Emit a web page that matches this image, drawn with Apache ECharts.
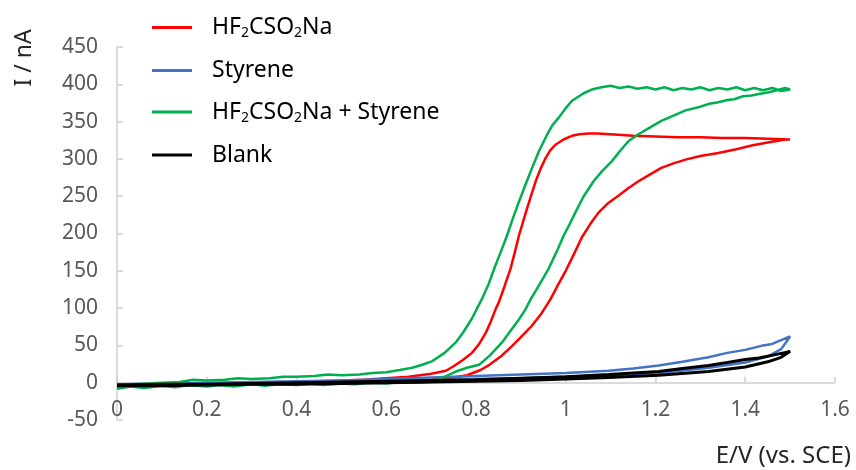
<!DOCTYPE html>
<html>
<head>
<meta charset="utf-8">
<script src="https://cdn.jsdelivr.net/npm/echarts@6/dist/echarts.min.js"></script>
<style>html,body{margin:0;padding:0;background:#fff;}#c{width:856px;height:470px;}</style>
</head>
<body>
<div id="c"></div>
<script>
// Series names
var seriesNames = ['HF2CSO2Na', 'Styrene', 'HF2CSO2Na + Styrene', 'Blank'];
// X axis ticks (E/V) and Y axis ticks (I / nA)
var xTicks = [0, 0.2, 0.4, 0.6, 0.8, 1, 1.2, 1.4, 1.6];
var yTicks = [-50, 0, 50, 100, 150, 200, 250, 300, 350, 400, 450];

// HF2CSO2Na: forward scan then reverse scan
var redE = [0,0.1,0.2,0.3,0.4,0.5,0.6,0.65,0.7,0.75,0.78,0.81,0.83,0.855,0.88,0.9,0.924,0.945,0.966,0.98,1.0,1.018,1.036,1.055,1.073,1.095,1.118,1.14,1.162,1.19,1.213,1.24,1.267,1.3,1.34,1.38,1.414,1.45,1.49,1.5,
  1.45,1.4,1.35,1.3,1.25,1.2,1.15,1.1,1.07,1.05,1.03,1.014,0.995,0.977,0.965,0.955,0.944,0.933,0.924,0.914,0.905,0.896,0.887,0.877,0.864,0.851,0.844,0.833,0.822,0.807,0.791,0.77,0.75,0.733,0.7,0.65,0.6,0.55,0.5,0.4,0.3,0.2,0.1,0];
var redI = [-4,-3,-2,-1,0,0,2,3,4,7,10,17,24,35,49,61,76,92,112,128,150,172,195,213,228,241,251,261,270,280,288,294,299,304,308,313,318,322,326,326,
  327,328,328,329,329,330,331,333,334,334,333,331,326,319,311,301,287,270,253,234,216,198,176,153,130,108,99,82,67,52,40,30,22,16,12,8,6,4,3,1,0,-1,-2,-4];

// Styrene
var blueE = [0,0.1,0.2,0.3,0.4,0.5,0.6,0.7,0.8,0.9,1.0,1.1,1.207,1.318,1.4,1.45,1.48,1.5,
  1.48,1.46,1.44,1.42,1.4,1.36,1.318,1.26,1.207,1.15,1.096,1.0,0.9,0.8,0.7,0.6,0.5,0.4,0.3,0.2,0.1,0];
var blueI = [-3,-3,-2,-1,0,1,2,3,5,6,8,10,13,20,27,35,45,62,
  57,52,50,47,44,40,34,28,23,19,16,13,11,9,7,5,3,2,1,0,-1,-2];

// HF2CSO2Na + Styrene
var greenE = [0,0.03,0.06,0.1,0.13,0.16,0.2,0.23,0.26,0.3,0.33,0.36,0.4,0.43,0.46,0.5,0.53,0.56,0.6,0.63,0.66,0.696,0.72,0.755,0.78,0.807,0.83,0.858,0.875,0.896,0.91,0.922,0.94,0.962,0.98,0.996,1.01,1.022,1.04,1.062,1.08,1.103,1.12,1.14,1.162,1.19,1.213,1.24,1.267,1.3,1.32,1.34,1.36,1.375,1.395,1.414,1.43,1.45,1.47,1.489,1.5,
  1.48,1.46,1.44,1.42,1.4,1.38,1.36,1.34,1.32,1.3,1.28,1.26,1.24,1.22,1.2,1.18,1.16,1.14,1.12,1.1,1.08,1.058,1.04,1.014,1.0,0.984,0.97,0.958,0.94,0.925,0.91,0.896,0.882,0.869,0.855,0.84,0.828,0.813,0.79,0.772,0.755,0.73,0.703,0.68,0.658,0.63,0.6,0.57,0.54,0.5,0.47,0.44,0.4,0.37,0.34,0.3,0.27,0.24,0.2,0.17,0.14,0.1,0.07,0.04,0];
var greenI = [-8,-5,-7,-4,-6,-3,-5,-3,-5,-2,-4,-2,-3,-1,-3,-1,-2,0,-1,1,0,1,5,15,20,24,36,54,68,85,98,112,130,153,176,198,214,229,250,270,283,297,310,324,333,343,351,358,365,370,374,376,379,380,384,385,387,389,392,395,393,
  391,395,392,395,392,396,393,395,392,396,393,395,392,396,393,396,394,397,395,398,396,393,388,378,368,355,345,332,310,288,265,243,220,197,175,152,132,112,85,68,54,40,29,24,20,17,14,13,11,10,11,9,8,8,6,5,6,4,3,4,1,0,-1,-2,-5];

// Blank
var blackE = [0,0.1,0.2,0.3,0.4,0.5,0.6,0.7,0.8,0.9,1.0,1.096,1.207,1.318,1.4,1.45,1.48,1.5,
  1.47,1.43,1.4,1.36,1.318,1.26,1.207,1.15,1.096,1.0,0.9,0.8,0.7,0.6,0.5,0.4,0.3,0.2,0.1,0];
var blackI = [-4,-4,-3,-2,-2,-1,0,1,2,3,5,7,10,15,21,28,34,42,
  38,33,31,27,23,19,15,13,11,8,6,4,3,2,1,0,-1,-2,-2,-3];

function pairs(xs, ys) { return xs.map(function (x, i) { return [x, ys[i]]; }); }

var FONT = '"Noto Sans", "DejaVu Sans", sans-serif';
var colors = ['#FF0000', '#4472C4', '#00B050', '#000000'];
var dataSets = [pairs(redE, redI), pairs(blueE, blueI), pairs(greenE, greenI), pairs(blackE, blackI)];
var widths = [2.5, 2.5, 2.5, 3];

function richName(name) {
  var parts = name.split(/(2)/);
  return parts.filter(function (p) { return p !== ''; }).map(function (p) {
    return p === '2' ? '{s|2}' : '{a|' + p + '}';
  }).join('');
}

var chart = echarts.init(document.getElementById('c'), null, { renderer: 'canvas' });
chart.setOption({
  animation: false,
  backgroundColor: '#ffffff',
  grid: { left: 117, right: 21, top: 47, bottom: 50, containLabel: false },
  legend: {
    orient: 'vertical',
    left: 147,
    top: 11,
    itemWidth: 40,
    itemHeight: 3,
    itemGap: 18.5,
    icon: 'rect',
    data: seriesNames,
    formatter: richName,
    textStyle: {
      padding: [0, 0, 0, 15],
      rich: {
        a: { fontSize: 23, fontFamily: FONT, color: '#000', lineHeight: 26 },
        s: { fontSize: 14, fontFamily: FONT, color: '#000', lineHeight: 12, verticalAlign: 'bottom' }
      }
    }
  },
  xAxis: {
    type: 'value',
    min: xTicks[0],
    max: xTicks[xTicks.length - 1],
    interval: 0.2,
    axisLine: { onZero: true, lineStyle: { color: '#d0d0d0', width: 1.5 } },
    axisTick: { show: true, inside: true, length: 6, lineStyle: { color: '#d0d0d0', width: 1.5 } },
    splitLine: { show: false },
    axisLabel: { fontSize: 21, fontFamily: FONT, color: '#595959', margin: -20 }
  },
  yAxis: {
    type: 'value',
    min: yTicks[0],
    max: yTicks[yTicks.length - 1],
    interval: 50,
    axisLine: { show: true, onZero: false, lineStyle: { color: '#d0d0d0', width: 1.5 } },
    axisTick: { show: true, inside: true, length: 6, lineStyle: { color: '#d0d0d0', width: 1.5 } },
    splitLine: { show: false },
    axisLabel: { fontSize: 21, fontFamily: FONT, color: '#595959', margin: 19 }
  },
  graphic: [
    {
      type: 'text', x: 24, y: 58, rotation: Math.PI / 2,
      style: { text: 'I / nA', font: '23px ' + FONT, fill: '#262626', align: 'center', verticalAlign: 'middle' }
    },
    {
      type: 'text', x: 851, y: 456,
      style: { text: 'E/V (vs. SCE)', font: '24px ' + FONT, fill: '#262626', align: 'right', verticalAlign: 'middle' }
    }
  ],
  series: seriesNames.map(function (n, i) {
    return {
      name: n,
      type: 'line',
      data: dataSets[i],
      showSymbol: false,
      symbol: 'none',
      smooth: false,
      color: colors[i],
      lineStyle: { color: colors[i], width: widths[i] },
      z: 2 + i
    };
  })
});
</script>
</body>
</html>
